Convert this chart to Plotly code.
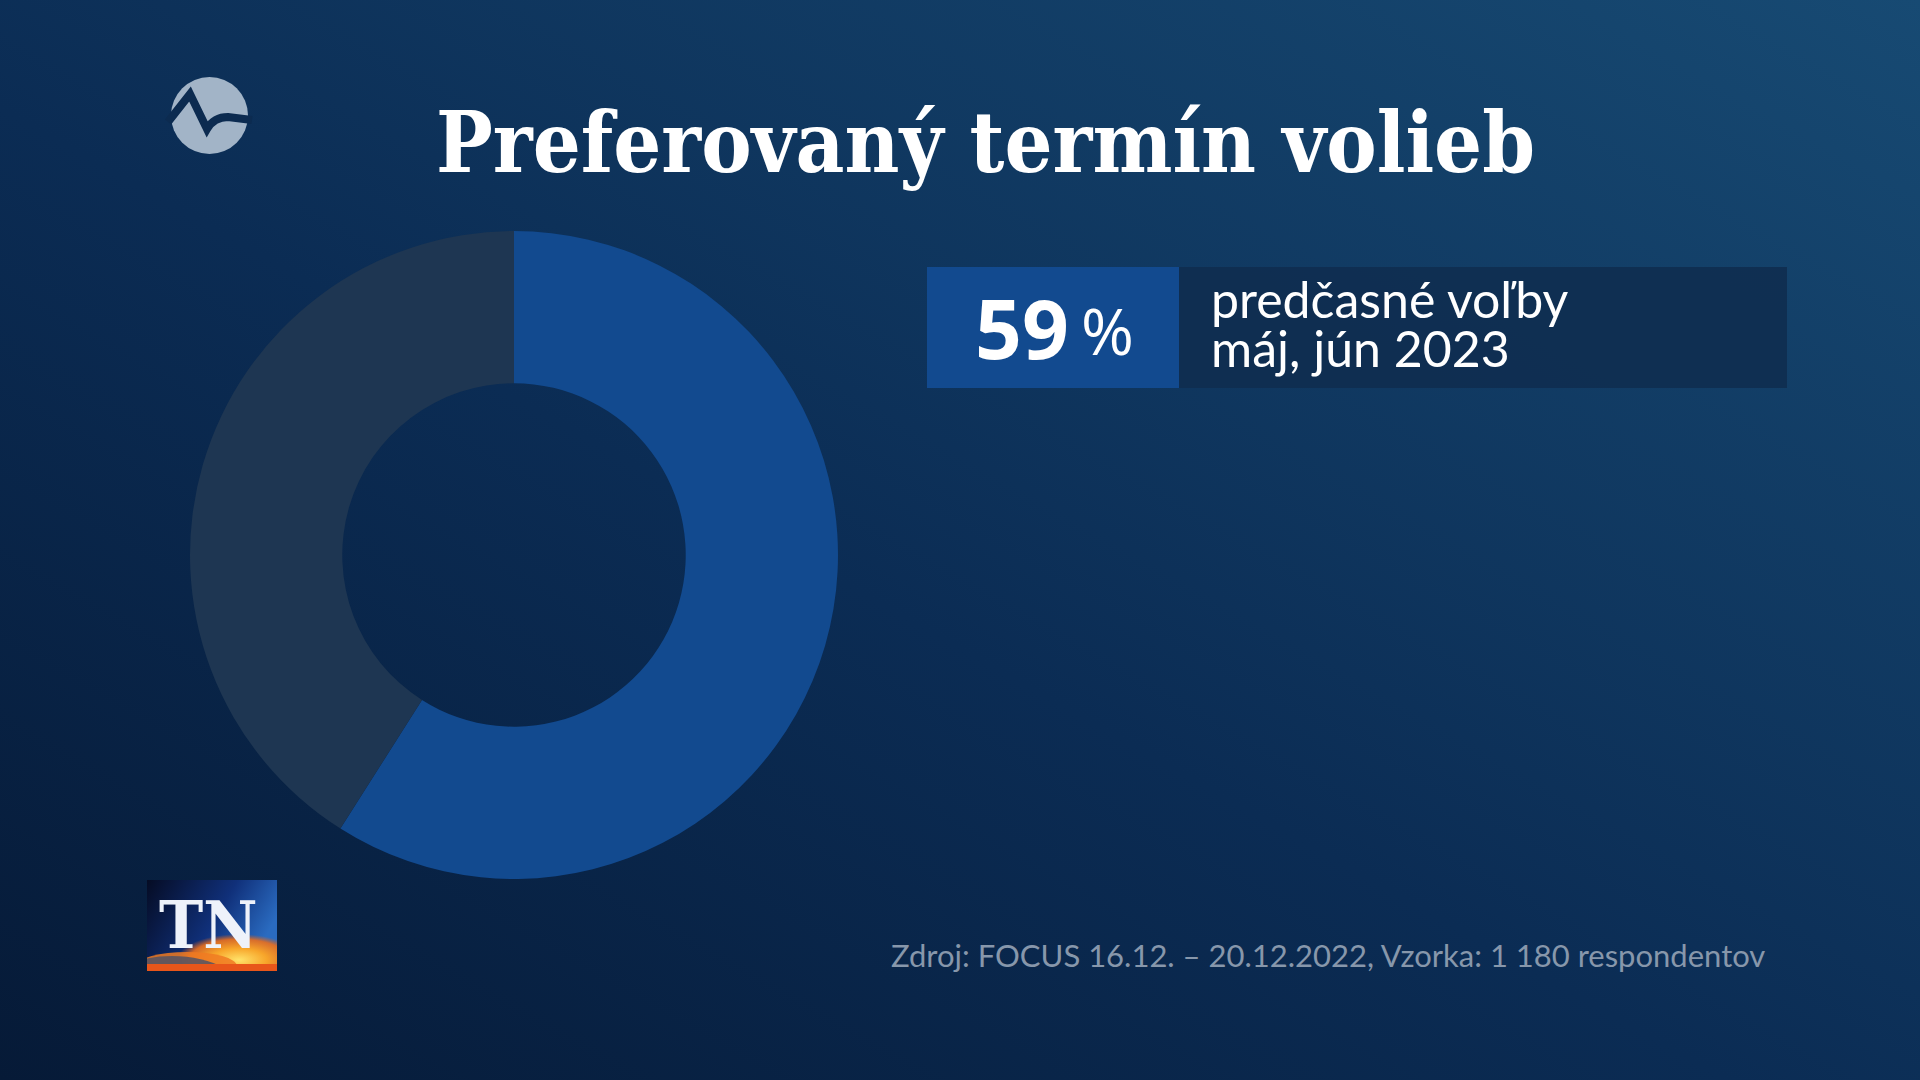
import base64
import plotly.graph_objects as go

# ---- data ----
labels = ["predčasné voľby máj, jún 2023", "ostatní"]
values = [59, 41]
slice_colors = ["#124a8f", "#1e3652"]
title_text = "Preferovaný termín volieb"
big_value = "59"
big_unit = "%"
label_lines = ["predčasné voľby", "máj, jún 2023"]
source_text = "Zdroj: FOCUS 16.12. – 20.12.2022, Vzorka: 1 180 respondentov"
logo_text = "TN"

W, H = 1920, 1080


def px(x):
    return x / W


def py(y):
    return 1 - y / H


def svg_uri(svg):
    return "data:image/svg+xml;base64," + base64.b64encode(svg.encode("utf-8")).decode("ascii")


bg_svg = f"""<svg xmlns='http://www.w3.org/2000/svg' width='{W}' height='{H}' viewBox='0 0 {W} {H}' preserveAspectRatio='none'>
<defs><linearGradient id='g' x1='0' y1='1' x2='1' y2='0'>
<stop offset='0' stop-color='#061a37'/>
<stop offset='0.45' stop-color='#0b2c54'/>
<stop offset='1' stop-color='#174a73'/>
</linearGradient></defs>
<rect width='{W}' height='{H}' fill='url(#g)'/>
</svg>"""

tn_svg = """<svg xmlns='http://www.w3.org/2000/svg' width='130' height='91' viewBox='0 0 130 91' preserveAspectRatio='none'>
<defs>
<linearGradient id='a' x1='0' y1='0' x2='1' y2='0.4'>
<stop offset='0' stop-color='#050c24'/>
<stop offset='0.6' stop-color='#10307a'/>
<stop offset='1' stop-color='#2a6bc0'/>
</linearGradient>
<radialGradient id='f' cx='0.5' cy='0.5' r='0.5'>
<stop offset='0' stop-color='#ffe36a'/>
<stop offset='0.45' stop-color='#f7a52a'/>
<stop offset='0.8' stop-color='#ec6f1c' stop-opacity='0.9'/>
<stop offset='1' stop-color='#e0601a' stop-opacity='0'/>
</radialGradient>
</defs>
<rect width='130' height='91' fill='url(#a)'/>
<ellipse cx='92' cy='80' rx='62' ry='26' fill='url(#f)'/>
<ellipse cx='40' cy='86' rx='50' ry='14' fill='#f07a22' opacity='0.85'/>
<ellipse cx='25' cy='118' rx='75' ry='42' fill='#4a5068' opacity='0.8'/>
<rect y='84' width='130' height='7' fill='#e8561a'/>
</svg>"""

fig = go.Figure()

cx, cy, r = 514, 555, 324
fig.add_trace(go.Pie(
    labels=labels,
    values=values,
    hole=0.53,
    sort=False,
    direction="clockwise",
    rotation=0,
    marker=dict(colors=slice_colors, line=dict(width=0)),
    textinfo="none",
    hoverinfo="label+percent",
    showlegend=False,
    domain=dict(x=[px(cx - r), px(cx + r)], y=[py(cy + r), py(cy - r)]),
))

shapes = []
# label box
shapes.append(dict(type="rect", xref="paper", yref="paper",
                   x0=px(1179), x1=px(1787), y0=py(388), y1=py(267),
                   fillcolor="#0f2e50", opacity=0.9, line=dict(width=0), layer="below"))
shapes.append(dict(type="rect", xref="paper", yref="paper",
                   x0=px(927), x1=px(1179), y0=py(388), y1=py(267),
                   fillcolor="#124a8f", line=dict(width=0), layer="below"))
# top-left logo circle
shapes.append(dict(type="circle", xref="paper", yref="paper",
                   x0=px(171), x1=px(248), y0=py(154), y1=py(77),
                   fillcolor="#a2b4c7", line=dict(width=0)))
wave = "M {} {} L {} {} L {} {} Q {} {} {} {} L {} {}".format(
    px(168), py(122), px(190), py(94), px(207), py(129),
    px(214), py(117), px(228), py(117), px(252), py(120))
shapes.append(dict(type="path", xref="paper", yref="paper", path=wave,
                   line=dict(color="#0c2b50", width=8)))

images = [
    dict(source=svg_uri(bg_svg), xref="paper", yref="paper", x=0, y=1,
         sizex=1, sizey=1, sizing="stretch", xanchor="left", yanchor="top", layer="below"),
    dict(source=svg_uri(tn_svg), xref="paper", yref="paper", x=px(147), y=py(880),
         sizex=px(277) - px(147), sizey=py(880) - py(971), sizing="stretch",
         xanchor="left", yanchor="top", layer="below"),
]

annotations = [
    dict(text=f"<b>{title_text}</b>", xref="paper", yref="paper", x=px(985), y=py(142),
         xanchor="center", yanchor="middle", showarrow=False,
         font=dict(family="DejaVu Serif Condensed, Liberation Serif", size=84, color="#ffffff")),
    dict(text=f"<b>{big_value}</b>", xref="paper", yref="paper", x=px(1071), y=py(327),
         xanchor="right", yanchor="middle", showarrow=False,
         font=dict(family="Open Sans", size=82, color="#ffffff")),
    dict(text=big_unit, xref="paper", yref="paper", x=px(1079), y=py(330),
         xanchor="left", yanchor="middle", showarrow=False,
         font=dict(family="Open Sans", size=64, color="#ffffff")),
    dict(text=label_lines[0], xref="paper", yref="paper", x=px(1209), y=py(299),
         xanchor="left", yanchor="middle", showarrow=False,
         font=dict(family="Lato", size=50, color="#ffffff")),
    dict(text=label_lines[1], xref="paper", yref="paper", x=px(1209), y=py(348),
         xanchor="left", yanchor="middle", showarrow=False,
         font=dict(family="Lato", size=50, color="#ffffff")),
    dict(text=source_text, xref="paper", yref="paper", x=px(1767), y=py(955),
         xanchor="right", yanchor="middle", showarrow=False,
         font=dict(family="Lato", size=31, color="#8797ab")),
    dict(text=f"<b>{logo_text}</b>", xref="paper", yref="paper", x=px(208), y=py(925),
         xanchor="center", yanchor="middle", showarrow=False,
         font=dict(family="DejaVu Serif Condensed, Liberation Serif", size=66, color="#eef2fa")),
]

fig.update_layout(
    width=W, height=H,
    margin=dict(l=0, r=0, t=0, b=0),
    paper_bgcolor="#0b2b52",
    plot_bgcolor="rgba(0,0,0,0)",
    shapes=shapes,
    images=images,
    annotations=annotations,
)

fig.write_html(
    "out.html",
    config={"displayModeBar": False},
    post_script="document.body.style.margin='0';document.body.style.overflow='hidden';",
)
